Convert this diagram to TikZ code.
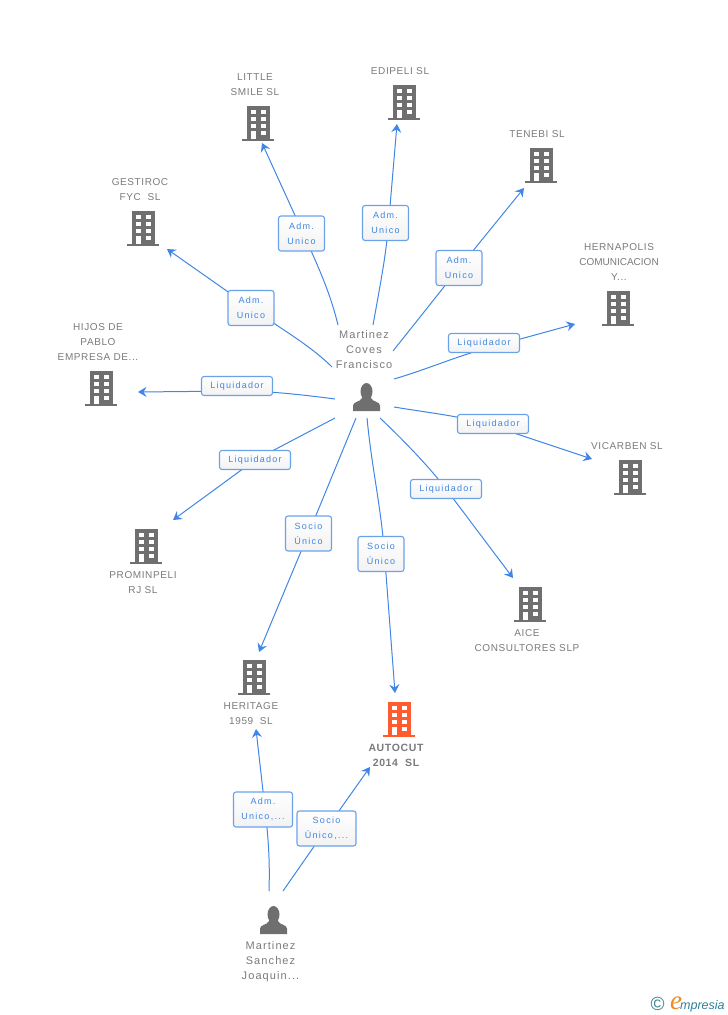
\documentclass[tikz,border=0pt]{standalone}
\usepackage{fontspec}
\setmainfont{Liberation Sans}
\newfontfamily\labfont[LetterSpace=14]{Liberation Sans}
\newfontfamily\namefont[LetterSpace=6]{Liberation Sans}
\newfontfamily\tightfont{Liberation Sans}
\newfontfamily\personfont[LetterSpace=10]{Liberation Sans}
\newfontfamily\logofont{Liberation Serif}
\usetikzlibrary{arrows.meta,calc,backgrounds}
\definecolor{linkblue}{HTML}{3F86E6}
\definecolor{boxblue}{HTML}{6AA2EA}
\definecolor{txtblue}{HTML}{3F86E0}
\definecolor{iconGray}{HTML}{6F6F6F}
\definecolor{nameGray}{HTML}{7A7A7A}
\definecolor{iconOrange}{HTML}{FF5B2E}
\definecolor{logoTeal}{HTML}{2F7F9A}
\definecolor{logoOrange}{HTML}{F0891E}
\newcommand{\bentlink}[5]{% start, first control, through point, tip, tangent length
  \draw[conn] (#1) .. controls (#2) and ($(#3)!-#5pt!(#4)$) .. (#3) -- (#4);}
\tikzset{
  x=1pt,y=-1pt,
  conn/.style={draw=linkblue,line width=1pt,-{Stealth[length=8.5pt,width=10pt,inset=3pt]}},
  rolebox/.style={draw=boxblue,line width=1.1pt,rounded corners=2.5pt,top color=white,bottom color=white!95!black,
    text=txtblue,font=\labfont\fontsize{9}{15}\selectfont,align=center,inner sep=0pt,minimum width=#1,anchor=center},
  rolesmall/.style={rolebox=46pt,minimum height=35pt},
  rolewide/.style={rolebox=59pt,minimum height=35pt},
  roleline/.style={rolebox=71pt,minimum height=19pt},
  namelab/.style={text=nameGray,font=\namefont\fontsize{10}{15}\selectfont,align=center,inner sep=0pt,anchor=center},
  personlab/.style={namelab,font=\personfont\fontsize{11}{15}\selectfont},
  pics/bld/.style={code={
    \fill[#1] (-16,16) rectangle (16,18);
    \fill[#1] (-11,-17) rectangle (12,16);
    \foreach \yy in {-13,-6,1}{\fill[white] (-7,\yy) rectangle (-2.5,\yy+4);}
    \foreach \yy in {-13,-6,1,8}{\fill[white] (3,\yy) rectangle (7.5,\yy+4);}
    \fill[white] (-7,8) rectangle (-2.5,16);
  }},
  pics/person/.style={code={
    \fill[iconGray] (0,-5.5) ellipse (6 and 8.5);
    \fill[iconGray] (-13.5,14) -- (-13.5,8.5) .. controls (-13.5,4.5) and (-6,5) .. (-4.5,1) -- (-4.5,-1) -- (4.5,-1) -- (4.5,1)
      .. controls (6,5) and (13.5,4.5) .. (13.5,8.5) -- (13.5,14) -- cycle;
  }}
}
\begin{document}
\begin{tikzpicture}
\useasboundingbox (0,0) rectangle (728,1015);
% icons
\pic at (258,123) {bld=iconGray};
\pic at (404,102) {bld=iconGray};
\pic at (541,165) {bld=iconGray};
\pic at (618,308) {bld=iconGray};
\pic at (630,477) {bld=iconGray};
\pic at (530,604) {bld=iconGray};
\pic at (399,719) {bld=iconOrange};
\pic at (254,677) {bld=iconGray};
\pic at (146,546) {bld=iconGray};
\pic at (101,388) {bld=iconGray};
\pic at (143,228) {bld=iconGray};
\pic at (366.5,397) {person};
\pic at (273.5,920) {person};
% names
\node[namelab] (nLittle) at (255,85) {LITTLE\\SMILE SL};
\node[namelab] (nEdipeli) at (400,71.5) {EDIPELI SL};
\node[namelab] (nTenebi) at (537,134.5) {TENEBI SL};
\node[namelab] (nHerna) at (619,262.5) {HERNAPOLIS\\{\tightfont COMUNICACION}\\Y...};
\node[namelab] (nVicarben) at (627,446.5) {VICARBEN SL};
\node[namelab] (nAice) at (527,640.5) {AICE\\CONSULTORES SLP};
\node[namelab,font=\namefont\bfseries\fontsize{10.5}{15}\selectfont] (nAutocut) at (396,755.5) {AUTOCUT\\2014\ \ SL};
\node[namelab] (nHeritage) at (251,713.5) {HERITAGE\\1959\ \ SL};
\node[namelab] (nPromin) at (143,582.5) {PROMINPELI\\RJ SL};
\node[namelab] (nHijos) at (98,342.5) {HIJOS DE\\PABLO\\EMPRESA DE...};
\node[namelab] (nGesti) at (140,189.5) {GESTIROC\\FYC\ \ SL};
\node[personlab] (nCoves) at (364,350) {Martinez\\Coves\\Francisco};
\node[personlab] (nSanchez) at (270.5,962) {Martinez\\Sanchez\\Joaquin...};
% role labels
\node[rolesmall] (lLittle) at (301.5,233.5) {Adm.\\Unico};
\node[rolesmall] (lEdipeli) at (385.5,223) {Adm.\\Unico};
\node[rolesmall] (lTenebi) at (459,268) {Adm.\\Unico};
\node[roleline] (lHerna) at (484,343) {Liquidador};
\node[roleline] (lVicarben) at (493,424) {Liquidador};
\node[roleline] (lAice) at (446,489) {Liquidador};
\node[rolesmall] (lAutocut) at (381,554) {Socio\\Único};
\node[rolesmall] (lHeritage) at (308.5,533.5) {Socio\\Único};
\node[roleline] (lPromin) at (255,460) {Liquidador};
\node[roleline] (lHijos) at (237,386) {Liquidador};
\node[rolesmall] (lGesti) at (251,308) {Adm.\\Unico};
\node[rolewide] (lBotAdm) at (263,809.5) {Adm.\\Unico,...};
\node[rolewide] (lBotSocio) at (326.5,828.5) {Socio\\Único,...};
% connector ends and the points where each connector passes behind its label
\coordinate (sLittle) at (338,325);
\coordinate (mLittle) at (303,233);
\coordinate (tLittle) at (262,143);
\coordinate (sEdipeli) at (373,325);
\coordinate (mEdipeli) at (388.6,223);
\coordinate (tEdipeli) at (397,124);
\coordinate (sTenebi) at (393,351);
\coordinate (tTenebi) at (524,188);
\coordinate (sHerna) at (394,379);
\coordinate (mHerna) at (484,349);
\coordinate (tHerna) at (575,324);
\coordinate (sVicarben) at (394,407);
\coordinate (mVicarben) at (493,426);
\coordinate (tVicarben) at (592,459);
\coordinate (sAice) at (380,418);
\coordinate (mAice) at (446,489);
\coordinate (tAice) at (513,578);
\coordinate (sAutocut) at (367,418);
\coordinate (mAutocut) at (384.5,554);
\coordinate (tAutocut) at (395,693);
\coordinate (sHeritage) at (356,418);
\coordinate (tHeritage) at (259,652);
\coordinate (sPromin) at (335,418);
\coordinate (tPromin) at (173,520);
\coordinate (sHijos) at (335,399);
\coordinate (mHijos) at (237,391);
\coordinate (tHijos) at (138,392);
\coordinate (sGesti) at (332,367);
\coordinate (mGesti) at (251,308);
\coordinate (tGesti) at (167,249);
\coordinate (sBotAdm) at (269,891);
\coordinate (mBotAdm) at (265,809);
\coordinate (tBotAdm) at (256,729);
\coordinate (sBotSocio) at (283,891);
\coordinate (tBotSocio) at (370,767);
% connectors, behind the labels
\begin{scope}[on background layer]
\bentlink{sLittle}{330,292}{mLittle}{tLittle}{35}
\bentlink{sEdipeli}{383,270}{mEdipeli}{tEdipeli}{30}
\draw[conn] (sTenebi) -- (lTenebi.center) -- (tTenebi);
\bentlink{sHerna}{425,370}{mHerna}{tHerna}{30}
\bentlink{sVicarben}{430,413}{mVicarben}{tVicarben}{30}
\bentlink{sAice}{400,437}{mAice}{tAice}{30}
\bentlink{sAutocut}{372,470}{mAutocut}{tAutocut}{50}
\draw[conn] (sHeritage) -- (lHeritage.center) -- (tHeritage);
\draw[conn] (sPromin) -- (lPromin.center) -- (tPromin);
\bentlink{sHijos}{305,395}{mHijos}{tHijos}{30}
\bentlink{sGesti}{310,345}{mGesti}{tGesti}{30}
\bentlink{sBotAdm}{270,860}{mBotAdm}{tBotAdm}{30}
\draw[conn] (sBotSocio) -- (lBotSocio.center) -- (tBotSocio);
\end{scope}
% logo
\node[text=logoTeal,font=\fontsize{19}{19}\selectfont,inner sep=0pt] (logoC) at (657.5,1004) {©};
\node[text=logoOrange,font=\logofont\itshape\fontsize{27}{27}\selectfont,inner sep=0pt,anchor=base west] (logoE) at (670,1009.5) {e};
\node[text=logoTeal,font=\itshape\fontsize{12.5}{12.5}\selectfont,inner sep=0pt,anchor=base west] (logoT) at (680,1009) {mpresia};
\end{tikzpicture}
\end{document}
